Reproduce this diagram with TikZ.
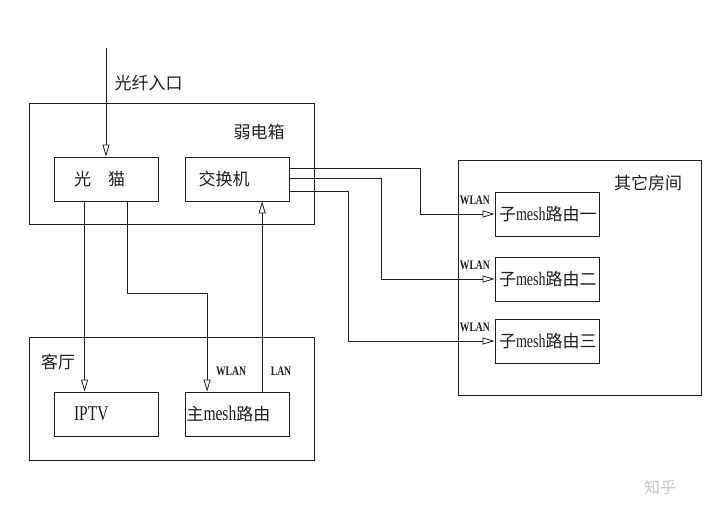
\documentclass[tikz,border=0pt]{standalone}
\usepackage{fontspec}
\setmainfont{Noto Sans CJK SC}
\newfontfamily\latinfont[FakeStretch=0.74]{Liberation Serif}
\usetikzlibrary{arrows.meta,calc}
\definecolor{ink}{HTML}{1E1E1E}
\definecolor{paper}{HTML}{FFFFFF}

\begin{document}
\begin{tikzpicture}[x=1pt,y=-1pt,font=\fontsize{17}{17}\selectfont,text=ink,draw=ink,
  line width=0.8pt,>={Triangle[open,length=12pt,width=7pt]},
  zone/.style={draw=ink,line width=0.8pt},
  dev/.style={draw=ink,minimum height=44pt,inner ysep=0pt,inner xsep=#1,
    text width=104pt-2*#1,align=left},
  port/.style={font=\latinfont\bfseries\fontsize{13}{13}\selectfont}]
  \fill[paper] (0,0) rectangle (720,510);
  \useasboundingbox (0,0) rectangle (720,510);

  % zones
  \draw[zone] (29,103) rectangle (314,224);
  \node at (259,132) {弱电箱};
  \draw[zone] (29,337) rectangle (314,460);
  \node at (58,362) {客厅};
  \draw[zone] (458,160) rectangle (701,395);
  \node at (648,183) {其它房间};

  % devices
  \node[dev=20pt] (modem) at (106,179) {光\quad 猫};
  \node[dev=13pt] (switch) at (237.5,179) {交换机};
  \node[dev=20pt] (iptv) at (106,414) {{\latinfont\fontsize{21}{21}\selectfont IPTV}};
  \node[dev=1pt] (mainr) at (237.5,414) {主{\latinfont\fontsize{21}{21}\selectfont mesh}路由};
  \foreach \i/\y/\n in {1/214/一,2/279/二,3/341/三}
    \node[dev=4pt] (sub\i) at (547,\y) {子{\latinfont\fontsize{19}{19}\selectfont mesh}路由\n};

  % fibre in
  \coordinate (fiberin) at (106,48);
  \draw[->] (fiberin) -- (fiberin |- modem.north);
  \node[anchor=west] (fiberlbl) at (111,83) {光纤入口};

  % modem to living room
  \draw[->] ([xshift=31pt]modem.south west) -- ([xshift=31pt]iptv.north west);
  \draw[->] ([xshift=74pt]modem.south west) -- ++(0,92) -| ([xshift=22pt]mainr.north west);
  \node[port] at (231,371) {WLAN};
  \draw[->] ([xshift=77pt]mainr.north west) -- ([xshift=77pt]switch.south west);
  \node[port] at (281,371) {LAN};

  % switch to other rooms
  \foreach \i/\dy/\run in {1/12/130,2/22/91,3/35/58}{
    \draw[->] ([yshift=-\dy pt]switch.north east) -- ++(\run,0) |- (sub\i.west);
    \node[port,anchor=south east] at ([xshift=-1pt,yshift=6pt]sub\i.west) {WLAN};
  }

  \node[text=black!22,font=\fontsize{16}{16}\selectfont] at (660,487) {知乎};
\end{tikzpicture}
\end{document}
